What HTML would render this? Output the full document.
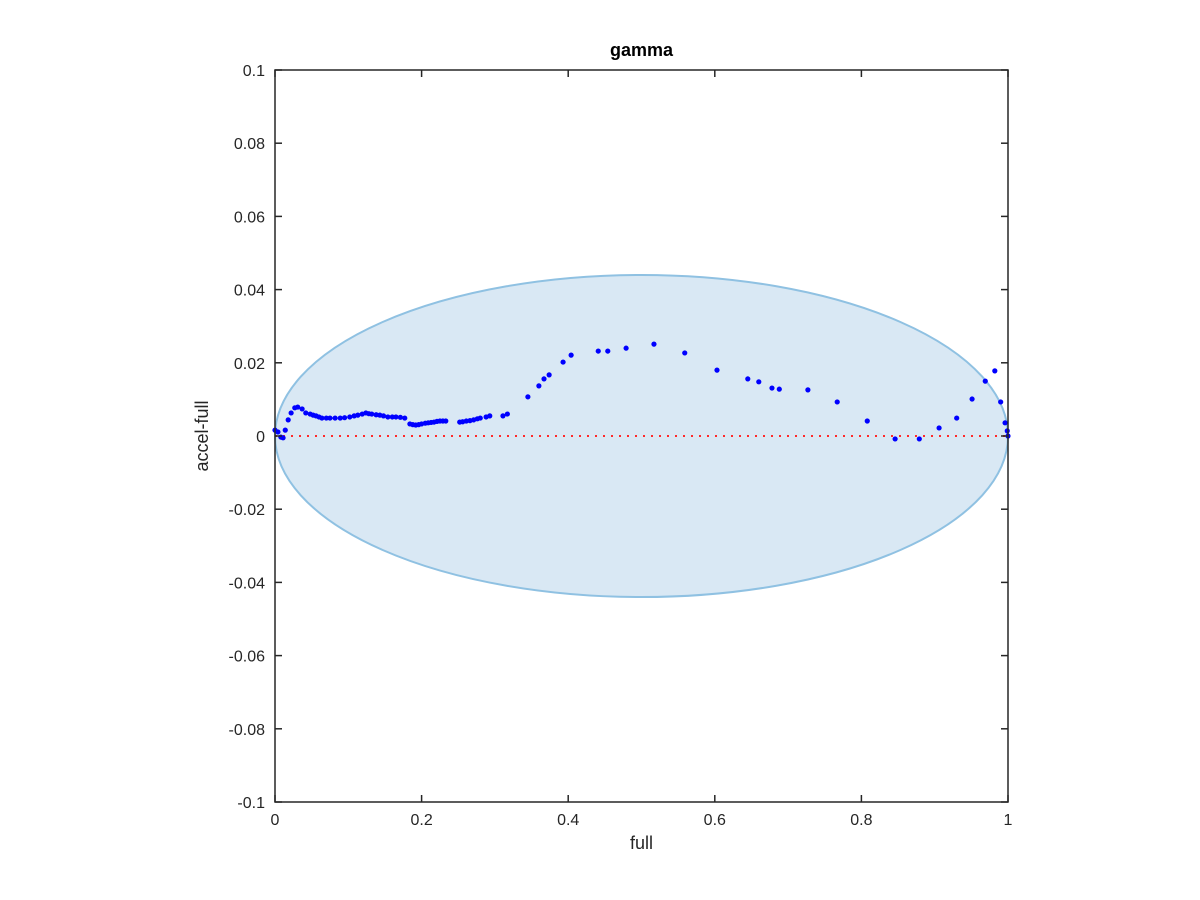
<!DOCTYPE html>
<html><head><meta charset="utf-8"><style>
html,body{margin:0;padding:0;background:#fff;}
svg{display:block;font-family:"Liberation Sans",Arial,sans-serif;}
</style></head><body>
<svg id="chart" width="1200" height="900" viewBox="0 0 1200 900"></svg>
<script>
const xTicks=[0,0.2,0.4,0.6,0.8,1];
const xTickLabels=["0","0.2","0.4","0.6","0.8","1"];
const yTicks=[0.1,0.08,0.06,0.04,0.02,0,-0.02,-0.04,-0.06,-0.08,-0.1];
const yTickLabels=["0.1","0.08","0.06","0.04","0.02","0","-0.02","-0.04","-0.06","-0.08","-0.1"];
const ellipseCenter=[0.5,0];
const ellipseRadii=[0.5,0.044];
const xs=[0,.004,.008,.011,.014,.018,.022,.027,.031,.037,.042,.048,.052,.056,.060,.064,.070,.075,.082,.089,.095,.102,.108,.113,.119,.124,.128,.132,.138,.143,.148,.154,.160,.165,.171,.177,.184,.188,.192,.196,.2,.205,.209,.213,.217,.221,.225,.229,.233,.252,.256,.261,.266,.271,.276,.280,.288,.293,.311,.317,.345,.360,.367,.374,.393,.404,.441,.454,.479,.517,.559,.603,.645,.660,.678,.688,.727,.767,.808,.846,.879,.906,.930,.951,.969,.982,.990,.996,.999,1.0];
const ys=[.0016,.0011,-.0003,-.0005,.0016,.0044,.0063,.0077,.0079,.0074,.0063,.0060,.0057,.0055,.0052,.0049,.0049,.0049,.0049,.0049,.0050,.0052,.0055,.0057,.0060,.0063,.0061,.0060,.0058,.0057,.0055,.0052,.0052,.0052,.0051,.0049,.0033,.0031,.0030,.0031,.0033,.0035,.0036,.0037,.0038,.0040,.0041,.0041,.0041,.0038,.0039,.0041,.0042,.0044,.0047,.0049,.0052,.0055,.0055,.0060,.0107,.0137,.0156,.0167,.0202,.0221,.0232,.0232,.0240,.0251,.0227,.0180,.0156,.0148,.0131,.0128,.0126,.0093,.0041,-.0008,-.0008,.0022,.0049,.0101,.0150,.0178,.0093,.0036,.0014,.0];
const L=275,R=1008,T=70,B=802;
const sx=v=>L+(v-0)*(R-L)/1;
const sy=v=>T+(0.1-v)*(B-T)/0.2;
const NS="http://www.w3.org/2000/svg";
const svg=document.getElementById('chart');
function mk(tag,attrs,parent){const e=document.createElementNS(NS,tag);for(const k in attrs)e.setAttribute(k,attrs[k]);(parent||svg).appendChild(e);return e;}
// ellipse
const el=mk('ellipse',{cx:sx(ellipseCenter[0]),cy:sy(ellipseCenter[1]),rx:sx(ellipseRadii[0])-sx(0),ry:sy(0)-sy(ellipseRadii[1]),fill:'#d9e8f4',stroke:'#8fc1e2','stroke-width':2});


// zero line
const zl=mk('line',{x1:sx(0),x2:sx(1),y1:sy(0),y2:sy(0),stroke:'#ff2a2a','stroke-width':2,'stroke-dasharray':'2,6'});


// points
const g=mk('g',{});


for(let i=0;i<xs.length;i++){
 const c=mk('circle',{cx:sx(xs[i]),cy:sy(ys[i]),r:2.6,fill:'#0000ff'},g);
 
 
}
// box
const box=mk('rect',{x:L,y:T,width:R-L,height:B-T,fill:'none',stroke:'#262626','stroke-width':1.5});


xTicks.forEach((v,i)=>{
 const x=sx(v);
 mk('line',{x1:x,x2:x,y1:B,y2:B-7,stroke:'#262626','stroke-width':1.5});
 mk('line',{x1:x,x2:x,y1:T,y2:T+7,stroke:'#262626','stroke-width':1.5});
 const t=mk('text',{x:x,y:B+23,'text-anchor':'middle','font-size':16,fill:'#262626'});
 t.textContent=xTickLabels[i];
 
 
});
yTicks.forEach((v,i)=>{
 const y=sy(v);
 mk('line',{x1:L,x2:L+7,y1:y,y2:y,stroke:'#262626','stroke-width':1.5});
 mk('line',{x1:R,x2:R-7,y1:y,y2:y,stroke:'#262626','stroke-width':1.5});
 const t=mk('text',{x:L-10,y:y+6,'text-anchor':'end','font-size':16,fill:'#262626'});
 t.textContent=yTickLabels[i];
 
 
});
const xt=mk('text',{x:(L+R)/2,y:B+47,'text-anchor':'middle','font-size':18,fill:'#262626'});
xt.textContent='full';


const yt=mk('text',{x:0,y:0,'text-anchor':'middle','font-size':18,fill:'#262626',transform:`translate(208,${(T+B)/2}) rotate(-90)`});
yt.textContent='accel-full';


const tt=mk('text',{x:(L+R)/2,y:T-14,'text-anchor':'middle','font-size':18,'font-weight':'bold',fill:'#000'});
tt.textContent='gamma';


</script>
</body></html>
